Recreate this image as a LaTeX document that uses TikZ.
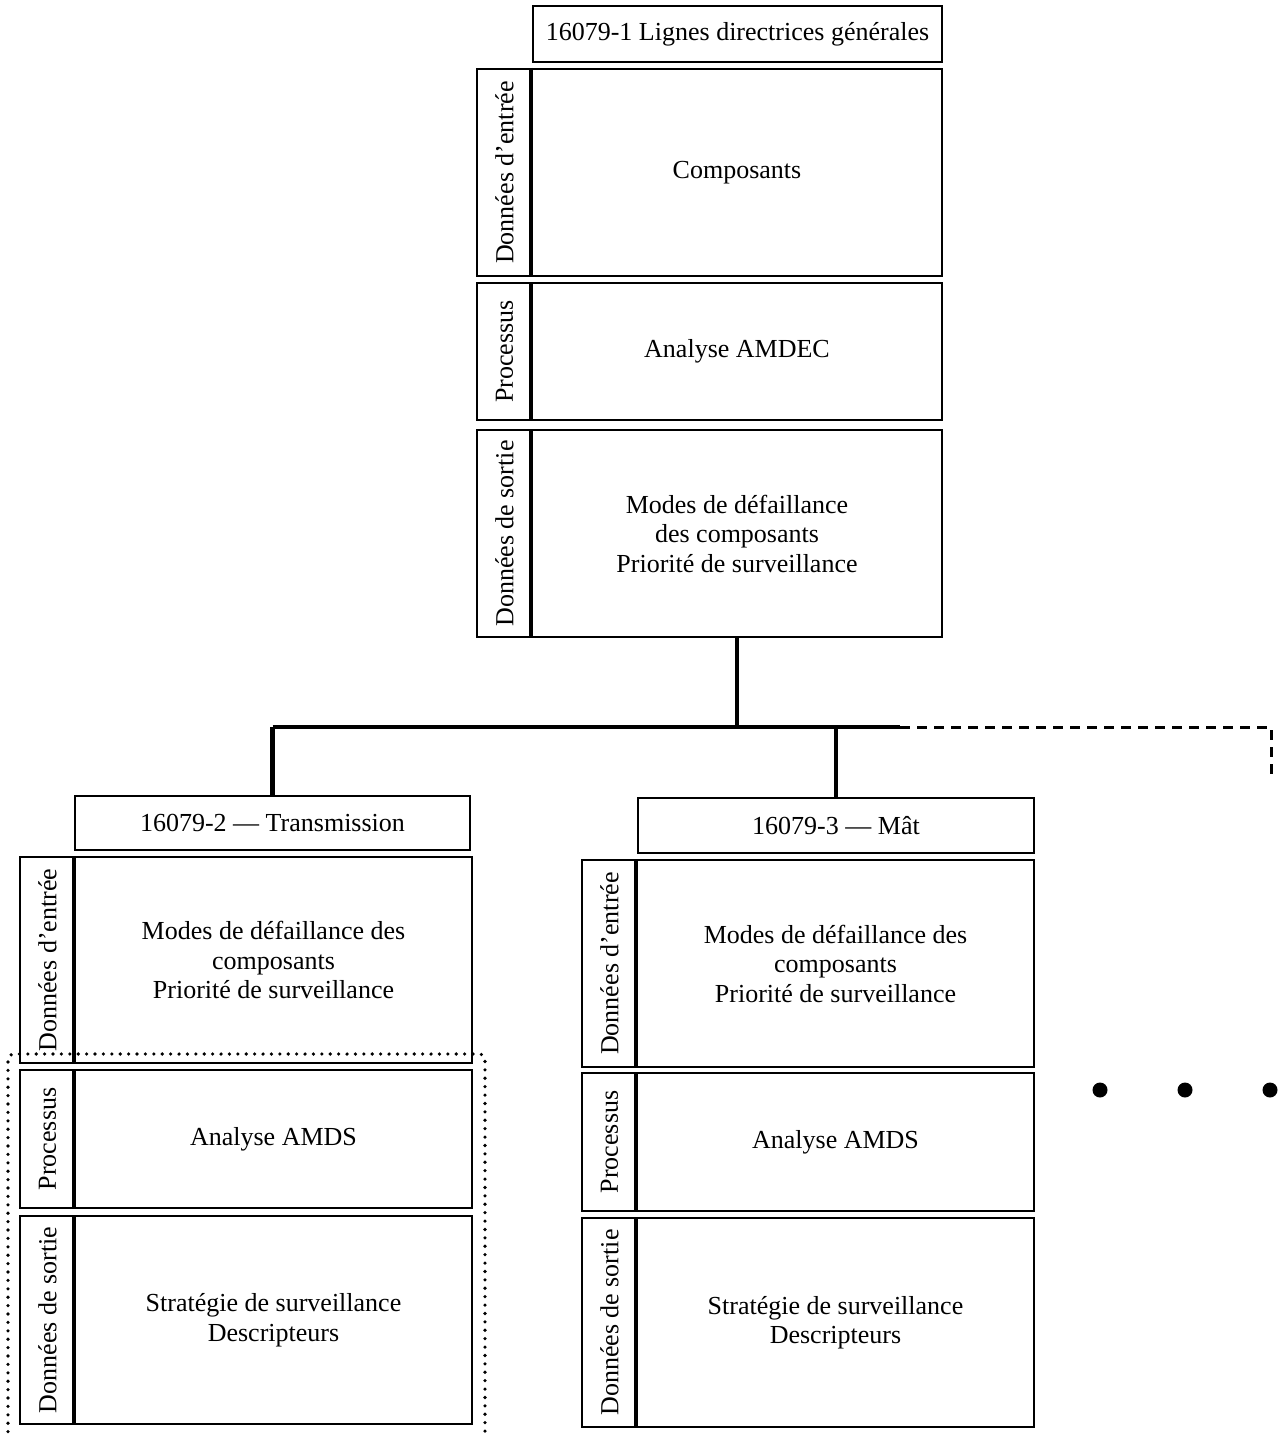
\documentclass[tikz,border=0pt]{standalone}
\usepackage{fontspec}
\setmainfont{Liberation Serif}

\begin{document}
\begin{tikzpicture}[x=0.5pt,y=-0.5pt,
    every node/.style={font=\fontsize{13pt}{14.75pt}\selectfont},
    cellbox/.style={draw,line width=1pt,inner sep=0pt,align=center},
    sidelabel/.style={cellbox,rotate=90,minimum height=27.5pt},
    divider/.style={line width=2pt},
    trunk/.style={line width=2.4pt},
    openbranch/.style={line width=1.5pt,dash pattern=on 5pt off 3.5pt},
    group/.style={line width=1.8pt,line cap=round,dash pattern=on 0pt off 4.2pt}]
    \useasboundingbox (0,0) rectangle (1279,1434);
    % 16079-1
    \node[cellbox,minimum width=204.5pt,minimum height=28pt] (t1) at (737.5,34) {16079-1 Lignes directrices générales};
    \node[sidelabel,minimum width=103.5pt] (i1l) at (504.5,172.5) {Données d’entrée};
    \node[cellbox,minimum width=205pt,minimum height=103.5pt] (i1) at (737,172.5) {Composants};
    \node[sidelabel,minimum width=68.5pt] (p1l) at (504.5,351.5) {Processus};
    \node[cellbox,minimum width=205pt,minimum height=68.5pt] (p1) at (737,351.5) {Analyse AMDEC};
    \node[sidelabel,minimum width=103.5pt] (o1l) at (504.5,533.5) {Données de sortie};
    \node[cellbox,minimum width=205pt,minimum height=103.5pt] (o1) at (737,533.5) {Modes de défaillance\\des composants\\Priorité de surveillance};
    % 16079-2
    \node[cellbox,minimum width=197.5pt,minimum height=27pt] (t2) at (272.5,823) {16079-2 — Transmission};
    \node[sidelabel,minimum width=103pt] (i2l) at (47.5,960) {Données d’entrée};
    \node[cellbox,minimum width=198.5pt,minimum height=103pt] (i2) at (273.5,960) {Modes de défaillance des\\composants\\Priorité de surveillance};
    \node[sidelabel,minimum width=69pt] (p2l) at (47.5,1139) {Processus};
    \node[cellbox,minimum width=198.5pt,minimum height=69pt] (p2) at (273.5,1139) {Analyse AMDS};
    \node[sidelabel,minimum width=104pt] (o2l) at (47.5,1320) {Données de sortie};
    \node[cellbox,minimum width=198.5pt,minimum height=104pt] (o2) at (273.5,1320) {Stratégie de surveillance\\Descripteurs};
    % 16079-3
    \node[cellbox,minimum width=198pt,minimum height=27.5pt] (t3) at (836,825.5) {16079-3 — Mât};
    \node[sidelabel,minimum width=103.5pt] (i3l) at (609.5,963.5) {Données d’entrée};
    \node[cellbox,minimum width=198.5pt,minimum height=103.5pt] (i3) at (835.5,963.5) {Modes de défaillance des\\composants\\Priorité de surveillance};
    \node[sidelabel,minimum width=69pt] (p3l) at (609.5,1142) {Processus};
    \node[cellbox,minimum width=198.5pt,minimum height=69pt] (p3) at (835.5,1142) {Analyse AMDS};
    \node[sidelabel,minimum width=104.5pt] (o3l) at (609.5,1322.5) {Données de sortie};
    \node[cellbox,minimum width=198.5pt,minimum height=104.5pt] (o3) at (835.5,1322.5) {Stratégie de surveillance\\Descripteurs};
    % dividers
    \foreach \c in {i1,p1,o1,i2,p2,o2,i3,p3,o3}
        \draw[divider] (\c.north west) -- (\c.south west);
    % tree
    \coordinate (busL) at (272.5,727);
    \coordinate (busR) at (900,727);
    \coordinate (busE) at (1271,727);
    \coordinate (busD) at (1271,777);
    \draw[trunk] (o1.south) -- (o1.south |- busL);
    \draw[trunk] (busL) -- (busR);
    \draw[trunk] (busL) -- (t2.north);
    \draw[trunk] (t3.north |- busL) -- (t3.north);
    \draw[openbranch] (busR) -- (busE) -- (busD);
    % group
    \draw[group,rounded corners=3pt] (8,1440) -- (8,1054) -- (485,1054) -- (485,1440);
    \foreach \x in {1100,1185,1270}
        \fill (\x,1090) circle (3.75pt);
\end{tikzpicture}
\end{document}
